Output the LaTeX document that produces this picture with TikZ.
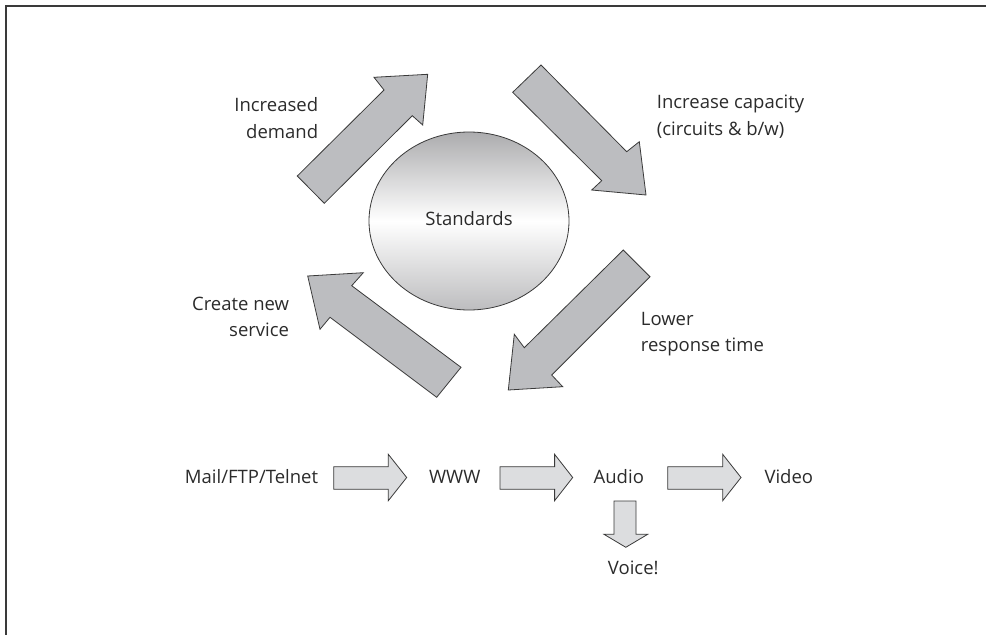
\documentclass[tikz,border=0pt]{standalone}
\usepackage{fontspec}
\setmainfont{Open Sans}
\usetikzlibrary{shapes.geometric}
\definecolor{ink}{HTML}{2B2B2B}
\definecolor{edge}{HTML}{3A3A3A}
\definecolor{ringgray}{HTML}{BCBDC0}
\definecolor{rowgray}{HTML}{DCDDDF}
\definecolor{shadetop}{HTML}{ACACAE}
\definecolor{shadebot}{HTML}{BDBDBF}
\tikzset{
  lbl/.style={inner sep=0pt, text=ink, font=\fontsize{18.5}{26.6}\selectfont},
  ringarrow/.style={draw=edge, fill=ringgray, line width=0.8pt, line join=miter},
  rowarrow/.style={draw=edge, fill=rowgray, line width=0.8pt, line join=miter},
  frameline/.style={draw=edge, line width=1.5pt},
}
\begin{document}
\begin{tikzpicture}[x=1pt, y=-1pt]
\useasboundingbox (0,0) rectangle (986,635);
% frame (top and left rules)
\draw[frameline] (6,635) -- (6,6) -- (986,6);

% central ellipse
\node[ellipse, draw=edge, line width=0.8pt, top color=shadetop, bottom color=shadebot,
      middle color=white, minimum width=200pt, minimum height=178pt, inner sep=0pt]
      (std) at (469,221) {};
\node[lbl, anchor=base] (stdtxt) at (469,225.7) {Standards};

% cycle of block arrows
\draw[ringarrow] (297.3,176) -- (384,90) -- (374,77.3) -- (427.7,74.3) -- (422.7,125)
  -- (412.3,115.7) -- (324.3,203.3) -- cycle;
\draw[ringarrow] (541,65) -- (626.7,151.7) -- (639.3,141.7) -- (646,195) -- (591.7,190)
  -- (601.7,180.7) -- (512.7,92.3) -- cycle;
\draw[ringarrow] (623.3,250) -- (650,276.7) -- (551.7,375) -- (562.7,386.7) -- (508.3,390)
  -- (514.3,334.3) -- (524.3,347.7) -- cycle;
\draw[ringarrow] (307.7,276) -- (363.3,272.7) -- (351.7,285.7) -- (461,367.3) -- (436.7,397.3)
  -- (330,317.3) -- (320,329.3) -- cycle;

% cycle labels (base anchor sits on the last line)
\node[lbl, align=right, anchor=base east] (demand) at (318.3,138.3) {Increased\\demand};
\node[lbl, align=left, anchor=base west] (capacity) at (656.7,135) {Increase capacity\\(circuits \& b/w)};
\node[lbl, align=left, anchor=base west] (response) at (640.7,351.7) {Lower\\response time};
\node[lbl, align=right, anchor=base east] (service) at (289.3,336.7) {Create new\\service};

% evolution row
\node[lbl, anchor=base east] (mail) at (318.3,483.3) {Mail/FTP/Telnet};
\node[lbl, anchor=base] (www) at (454.7,483.3) {WWW};
\node[lbl, anchor=base] (audio) at (618.8,483.3) {Audio};
\node[lbl, anchor=base] (video) at (788.8,483.3) {Video};
\node[lbl, anchor=base] (voice) at (633.3,574) {Voice!};

% horizontal block arrows (rectangle body + triangular head)
\foreach \xa/\xb/\xc in {333.7/388.3/406.7, 500/554.6/572.7, 667.7/722.7/741}{
  \draw[rowarrow] (\xa,466.7) -- (\xb,466.7) -- (\xb,454.3) -- (\xc,477.5)
    -- (\xb,500.7) -- (\xb,489.3) -- (\xa,489.3) -- cycle;
}
% downward block arrow
\draw[rowarrow] (614,501) -- (636,501) -- (636,534.3) -- (647.7,534.3) -- (625.8,547.3)
  -- (604,534.3) -- (614,534.3) -- cycle;
\end{tikzpicture}
\end{document}
